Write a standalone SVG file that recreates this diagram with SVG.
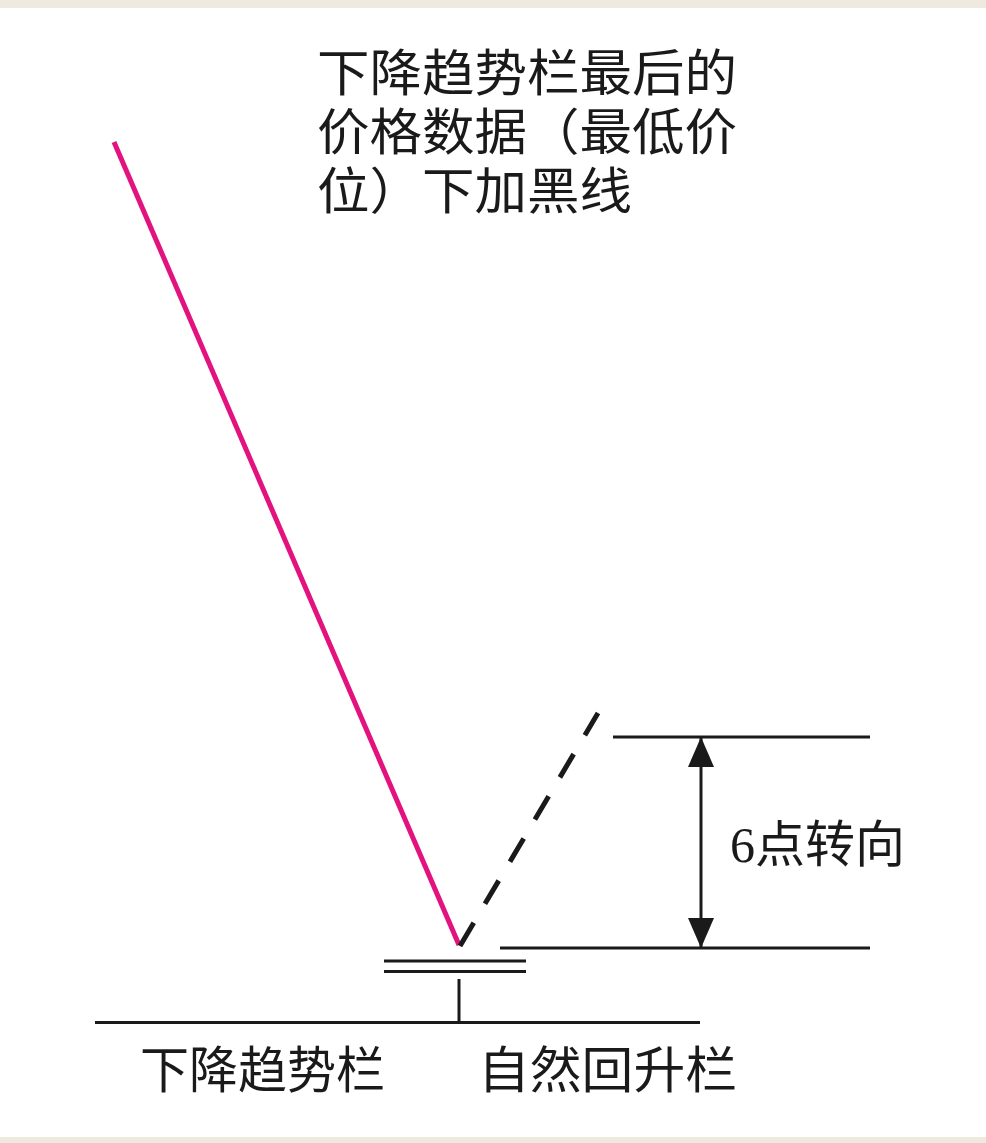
<svg xmlns="http://www.w3.org/2000/svg" width="986" height="1143" viewBox="0 0 986 1143">
  <defs>
    <style>
      .t { font-family: "Noto Sans CJK SC", "Liberation Sans", sans-serif; font-size: 50px; fill: #1a1a1a; }
      .s { font-family: "Liberation Serif", "Noto Sans CJK SC", serif; font-size: 50px; fill: #1a1a1a; }
      .ln { stroke: #1a1a1a; stroke-width: 3; fill: none; }
    </style>
    <marker id="ah" viewBox="0 0 30 26" refX="30" refY="13" markerWidth="30" markerHeight="26" markerUnits="userSpaceOnUse" orient="auto">
      <path d="M0,0 L30,13 L0,26 Z" fill="#1a1a1a"/>
    </marker>
  </defs>
  <rect x="0" y="0" width="986" height="1143" fill="#ffffff"/>
  <rect x="0" y="0" width="986" height="8" fill="#eeeadf"/>
  <rect x="0" y="1137" width="986" height="6" fill="#eeeadf"/>

  <g id="title">
    <text class="t"><tspan x="317" y="91" textLength="420" lengthAdjust="spacingAndGlyphs">下降趋势栏最后的</tspan><tspan x="317" y="150" textLength="420" lengthAdjust="spacingAndGlyphs">价格数据（最低价</tspan><tspan x="317" y="209" textLength="315" lengthAdjust="spacingAndGlyphs">位）下加黑线</tspan></text>
  </g>

  <g id="connectors">
    <line x1="114" y1="142" x2="459" y2="945" stroke="#e2127f" stroke-width="5"/>
    <line x1="460" y1="946" x2="598" y2="713" stroke="#1a1a1a" stroke-width="5" stroke-dasharray="27 22"/>
    <line x1="701" y1="842" x2="701" y2="737" class="ln" marker-end="url(#ah)"/>
    <line x1="701" y1="842" x2="701" y2="948" class="ln" marker-end="url(#ah)"/>
  </g>

  <g id="top-level">
    <line x1="613" y1="737" x2="870" y2="737" class="ln"/>
  </g>
  <g id="bottom-level">
    <line x1="500" y1="948" x2="870" y2="948" class="ln"/>
  </g>
  <g id="low-mark">
    <line x1="384" y1="961" x2="526" y2="961" class="ln"/>
    <line x1="384" y1="971.5" x2="526" y2="971.5" class="ln"/>
  </g>
  <g id="axis">
    <line x1="459" y1="979" x2="459" y2="1022" class="ln"/>
    <line x1="95" y1="1022.5" x2="700" y2="1022.5" class="ln"/>
  </g>

  <g id="reversal-label">
    <text x="730" y="862"><tspan class="s">6</tspan><tspan class="t">点转向</tspan></text>
  </g>

  <g id="down-bar-label">
    <text class="t" x="140" y="1088" textLength="245" lengthAdjust="spacingAndGlyphs">下降趋势栏</text>
  </g>
  <g id="rally-bar-label">
    <text class="t" x="478" y="1088" textLength="259" lengthAdjust="spacingAndGlyphs">自然回升栏</text>
  </g>
</svg>
